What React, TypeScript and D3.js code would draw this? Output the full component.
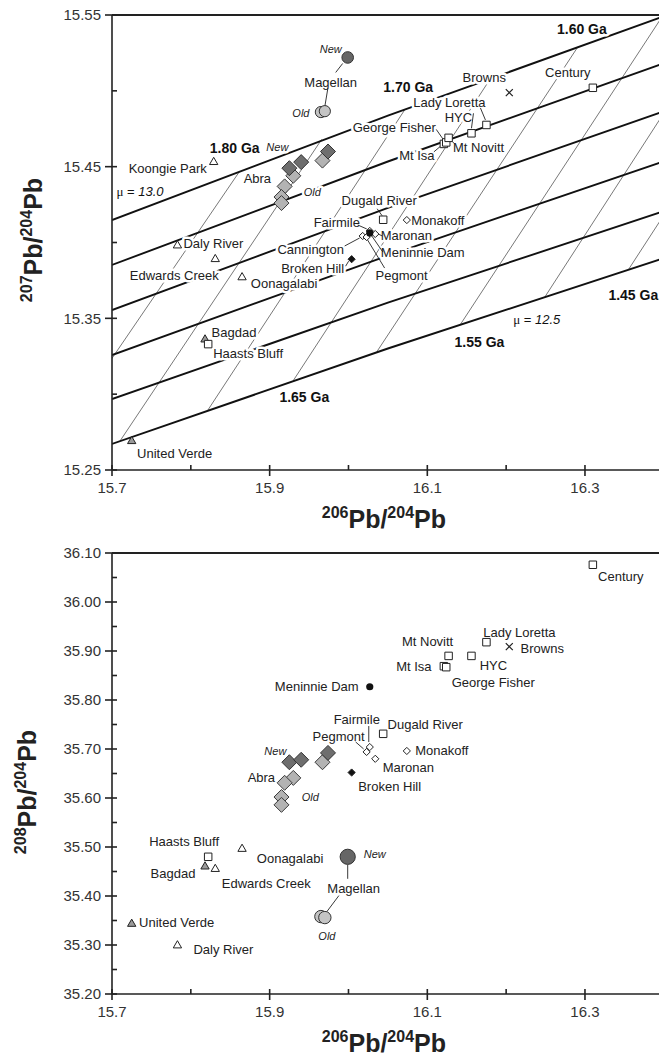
import React from 'react';
import * as d3 from 'd3';

const W = 659;
const H = 1061;
const FONT = '"Liberation Sans", Arial, Helvetica, sans-serif';

// --- model grid (top panel): growth curves for each mu, isochrons every 0.05 Ga
const muValues = [13.0, 12.9, 12.8, 12.7, 12.6, 12.5];
const growth206 = [15.7, 16.05, 16.4];
const growth207 = [
  [15.4148, 15.4837, 15.5491],
  [15.3852, 15.4534, 15.5182],
  [15.3555, 15.4228, 15.4865],
  [15.3258, 15.3914, 15.4535],
  [15.2968, 15.3604, 15.4206],
  [15.2672, 15.3301, 15.3896],
];
const isoAges = [1.8, 1.75, 1.7, 1.65, 1.6, 1.55, 1.5, 1.45];
const isoLow206 = [15.602, 15.71, 15.821, 15.93, 16.036, 16.142, 16.249, 16.355];
const isoLow207 = [15.249, 15.269, 15.289, 15.309, 15.328, 15.346, 15.364, 15.382];
const isoHigh206 = [15.862, 15.966, 16.072, 16.18, 16.291, 16.398, 16.503, 16.611];
const isoHigh207 = [15.447, 15.468, 15.488, 15.508, 15.529, 15.549, 15.568, 15.587];

// --- deposits (206Pb/204Pb shared by both panels)
const triSites = ['Koongie Park', 'Daly River', 'Edwards Creek', 'Oonagalabi', 'Bagdad', 'United Verde'];
const tri206 = [15.829, 15.783, 15.831, 15.865, 15.818, 15.725];
const tri207 = [15.453, 15.398, 15.389, 15.377, 15.336, 15.269];
const tri208 = [null, 35.299, 35.455, 35.496, 35.46, 35.343];

const sqSites = ['Haasts Bluff', 'Mt Isa', 'George Fisher', 'Mt Novitt', 'HYC', 'Lady Loretta', 'Dugald River', 'Century'];
const sq206 = [15.822, 16.121, 16.124, 16.127, 16.156, 16.175, 16.044, 16.31];
const sq207 = [15.333, 15.465, 15.466, 15.469, 15.472, 15.4775, 15.415, 15.502];
const sq208 = [35.48, 35.869, 35.867, 35.89, 35.89, 35.918, 35.731, 36.076];

const dmSites = ['Fairmile', 'Cannington', 'Maronan', 'Pegmont', 'Monakoff'];
const dm206 = [16.027, 16.018, 16.034, 16.023, 16.074];
const dm207 = [15.4076, 15.4043, 15.4056, 15.4036, 15.4148];
const dm208 = [35.704, null, 35.68, 35.694, 35.696];

const otherSites = ['Meninnie Dam', 'Broken Hill', 'Browns'];
const other206 = [16.027, 16.004, 16.204];
const other207 = [15.4063, 15.389, 15.4988];
const other208 = [35.827, 35.652, 35.909];

const abraOld206 = [15.967, 15.93, 15.919, 15.915, 15.915];
const abraOld207 = [15.454, 15.444, 15.437, 15.43, 15.426];
const abraOld208 = [35.673, 35.641, 35.631, 35.602, 35.586];
const abraNew206 = [15.925, 15.94, 15.974];
const abraNew207 = [15.449, 15.453, 15.46];
const abraNew208 = [35.673, 35.678, 35.692];

const magOld206 = [15.965, 15.97];
const magOld207 = [15.486, 15.4866];
const magOld208 = [35.358, 35.356];
const magNew206 = [15.999];
const magNew207 = [15.522];
const magNew208 = [35.48];

// --- axes
const xTicks = [15.7, 15.9, 16.1, 16.3];
const xMinor = [15.8, 16.0, 16.2];
const y7Ticks = [15.25, 15.35, 15.45, 15.55];
const y7Minor = [15.3, 15.4, 15.5];
const y8Ticks = [35.2, 35.3, 35.4, 35.5, 35.6, 35.7, 35.8, 35.9, 36.0, 36.1];
const y8Minor = [35.25, 35.35, 35.45, 35.55, 35.65, 35.75, 35.85, 35.95, 36.05];

type Site = { name: string; kind: string; x: number; y7: number | null; y8: number | null };

const sites: Site[] = [
  ...abraOld206.map((v, i) => ({ name: `Abra Old ${i}`, kind: 'abraOld', x: v, y7: abraOld207[i], y8: abraOld208[i] })),
  ...abraNew206.map((v, i) => ({ name: `Abra New ${i}`, kind: 'abraNew', x: v, y7: abraNew207[i], y8: abraNew208[i] })),
  ...magOld206.map((v, i) => ({ name: `Magellan Old ${i}`, kind: 'magOld', x: v, y7: magOld207[i], y8: magOld208[i] })),
  ...magNew206.map((v, i) => ({ name: `Magellan New ${i}`, kind: 'magNew', x: v, y7: magNew207[i], y8: magNew208[i] })),
  ...triSites.map((n, i) => ({ name: n, kind: 'tri', x: tri206[i], y7: tri207[i], y8: tri208[i] })),
  ...sqSites.map((n, i) => ({ name: n, kind: 'sq', x: sq206[i], y7: sq207[i], y8: sq208[i] })),
  ...dmSites.map((n, i) => ({ name: n, kind: 'odm', x: dm206[i], y7: dm207[i], y8: dm208[i] })),
  ...otherSites.map((n, i) => ({ name: n, kind: ['dot', 'bdm', 'x'][i], x: other206[i], y7: other207[i], y8: other208[i] })),
];

const greyTriangles = new Set(['Bagdad', 'United Verde']);

// label layout: [site, text, dx, dy, style, leader offsets]
type Lab = [string, string, number, number, string?, number[]?];
const topLabels: Lab[] = [
  ['Koongie Park', 'Koongie Park', -46, 6],
  ['Daly River', 'Daly River', 36, -2],
  ['Edwards Creek', 'Edwards Creek', -41, 16],
  ['Oonagalabi', 'Oonagalabi', 42, 6],
  ['Bagdad', 'Bagdad', 29, -7],
  ['Haasts Bluff', 'Haasts Bluff', 40, 9],
  ['United Verde', 'United Verde', 43, 12],
  ['Magellan New 0', 'New', -17, -8, 'i'],
  ['Magellan New 0', 'Magellan', -17, 25, '', [-5, 6, -12, 15]],
  ['Magellan Old 0', 'Old', -20, 1, 'i', [7, -24, 4, -6]],
  ['Abra New 0', 'Abra', -32, 10],
  ['Abra New 0', 'New', -12, -21, 'i'],
  ['Abra New 0', 'Old', 23, 24, 'i'],
  ['George Fisher', 'George Fisher', -52, -15, '', [-10, -13, -3, -3]],
  ['Mt Isa', 'Mt Isa', -27, 12, '', [-10, 8, -3, 2]],
  ['Mt Novitt', 'Mt Novitt', 30, 10, '', [6, 6, 3, 3]],
  ['HYC', 'HYC', -13, -16, '', [2, -20, 0, -5]],
  ['Lady Loretta', 'Lady Loretta', -37, -23, '', [-6, -17, -1, -5]],
  ['Browns', 'Browns', -25, -15],
  ['Century', 'Century', -25, -15],
  ['Dugald River', 'Dugald River', -4, -19, '', [-6, -11, -1, -4]],
  ['Monakoff', 'Monakoff', 31, 0],
  ['Fairmile', 'Fairmile', -33, -9, '', [-12, -6, -3, -2]],
  ['Cannington', 'Cannington', -52, 13, '', [-18, 10, -3, 2]],
  ['Maronan', 'Maronan', 31, 1, '', [7, 2, 3, 0]],
  ['Meninnie Dam', 'Meninnie Dam', 53, 20, '', [13, 19, 2, 3]],
  ['Broken Hill', 'Broken Hill', -39, 9, '', [-6, 7, -3, 2]],
  ['Pegmont', 'Pegmont', 35, 38, '', [18, 31, 1, 3]],
];

const bottomLabels: Lab[] = [
  ['Meninnie Dam', 'Meninnie Dam', -53, 0],
  ['Fairmile', 'Fairmile', -13, -28, '', [-1, -21, -1, -5]],
  ['Pegmont', 'Pegmont', -28, -15, '', [-11, -10, -3, -3]],
  ['Dugald River', 'Dugald River', 42, -9],
  ['Monakoff', 'Monakoff', 35, -1],
  ['Maronan', 'Maronan', 33, 9],
  ['Broken Hill', 'Broken Hill', 38, 14],
  ['Abra New 0', 'New', -14, -11, 'i'],
  ['Abra New 0', 'Abra', -28, 15],
  ['Abra New 0', 'Old', 21, 35, 'i'],
  ['Mt Novitt', 'Mt Novitt', -21, -14],
  ['Mt Isa', 'Mt Isa', -30, 0],
  ['Lady Loretta', 'Lady Loretta', 33, -10],
  ['Browns', 'Browns', 33, 2],
  ['HYC', 'HYC', 22, 10],
  ['George Fisher', 'George Fisher', 47, 15],
  ['Century', 'Century', 28, 12],
  ['Haasts Bluff', 'Haasts Bluff', -24, -15],
  ['Bagdad', 'Bagdad', -32, 7],
  ['Oonagalabi', 'Oonagalabi', 48, 9],
  ['Edwards Creek', 'Edwards Creek', 51, 14],
  ['Magellan New 0', 'New', 27, -3, 'i'],
  ['Magellan New 0', 'Magellan', 6, 32, '', [0, 8, 0, 22]],
  ['Magellan Old 0', 'Old', 6, 20, 'i', [18, -21, 6, -5]],
  ['United Verde', 'United Verde', 45, -1],
  ['Daly River', 'Daly River', 46, 4],
];

// age labels on the grid: [age index, end, dx, dy]
const ageLabels: [number, string, number, number][] = [
  [0, 'high', -5, -23],
  [2, 'high', 3, -22],
  [4, 'high', 4, -18],
  [3, 'low', 11, 17],
  [5, 'low', 19, 18],
  [7, 'low', 5, 25],
];

const diamond = (r: number) => `M0,${-r}L${r},0L0,${r}L${-r},0Z`;

function Marker({ s, px, py, top }: { s: Site; px: number; py: number; top: boolean }) {
  const st = { stroke: '#222', strokeWidth: 1 };
  switch (s.kind) {
    case 'tri':
      return <path transform={`translate(${px},${py})`} d={d3.symbol(d3.symbolTriangle, 30)() as string}
        fill={greyTriangles.has(s.name) ? '#9a9a9a' : '#fff'} {...st} />;
    case 'sq':
      return <path transform={`translate(${px},${py})`} d={d3.symbol(d3.symbolSquare, 56)() as string} fill="#fff" {...st} />;
    case 'odm':
      return <path transform={`translate(${px},${py})`} d={diamond(3.6)} fill="#fff" {...st} />;
    case 'bdm':
      return <path transform={`translate(${px},${py})`} d={diamond(3.6)} fill="#111" {...st} />;
    case 'dot':
      return <circle cx={px} cy={py} r={3.6} fill="#111" />;
    case 'x':
      return <path transform={`translate(${px},${py})`} d="M-3.5,-3.5L3.5,3.5M-3.5,3.5L3.5,-3.5" stroke="#222" strokeWidth={1.2} />;
    case 'abraOld':
      return <path transform={`translate(${px},${py})`} d={diamond(7.5)} fill="#b3b3b3" stroke="#3a3a3a" strokeWidth={1} />;
    case 'abraNew':
      return <path transform={`translate(${px},${py})`} d={diamond(7.5)} fill="#6e6e6e" stroke="#333" strokeWidth={1} />;
    case 'magOld':
      return <circle cx={px} cy={py} r={top ? 5.6 : 6.2} fill="#c4c4c4" stroke="#333" strokeWidth={1} />;
    case 'magNew':
      return <circle cx={px} cy={py} r={top ? 5.8 : 7.6} fill="#666" stroke="#333" strokeWidth={1} />;
  }
  return null;
}

function Title({ tx, ty, rot, sup }: { tx: number; ty: number; rot: boolean; sup: string }) {
  return (
    <text transform={`translate(${tx},${ty})${rot ? ' rotate(-90)' : ''}`} textAnchor="middle"
      fontFamily={FONT} fontWeight="bold" fill="#222">
      <tspan fontSize={16} dy={-10}>{sup}</tspan>
      <tspan fontSize={25} dy={10}>Pb/</tspan>
      <tspan fontSize={16} dy={-10}>204</tspan>
      <tspan fontSize={25} dy={10}>Pb</tspan>
    </text>
  );
}

function Panel({ y, yTicks, yMinor, yFmt, field, labels, top, yTitle, yTitleX, yTitleY }: any) {
  const x = d3.scaleLinear().domain([15.7, 16.4]).range([112, 663.8]);
  const [y0, y1] = y.range();
  const x0 = x(15.7);
  const x1 = x(16.4);
  const pts = sites.filter(s => s[field] != null);
  const pos = new Map<string, [number, number]>(pts.map(s => [s.name, [x(s.x), y(s[field])]]));
  const line = d3.line<[number, number]>().curve(d3.curveNatural).x(d => x(d[0])).y(d => y(d[1]));
  const clipId = top ? 'clipTop' : 'clipBot';
  const halo = { stroke: '#fff', strokeWidth: 5, strokeLinejoin: 'round' as const, paintOrder: 'stroke' as const };

  return (
    <g fontFamily={FONT}>
      <defs>
        <clipPath id={clipId}><rect x={x0} y={y1} width={x1 - x0} height={y0 - y1} /></clipPath>
      </defs>

      {top && (
        <g clipPath={`url(#${clipId})`}>
          {isoAges.map((a, i) => (
            <line key={a} x1={x(isoLow206[i])} y1={y(isoLow207[i])} x2={x(isoHigh206[i])} y2={y(isoHigh207[i])}
              stroke="#555" strokeWidth={0.8} />
          ))}
          {muValues.map((m, i) => (
            <path key={m} d={line(growth206.map((v, j) => [v, growth207[i][j]] as [number, number])) as string}
              fill="none" stroke="#111" strokeWidth={1.9} />
          ))}
        </g>
      )}

      {/* frame and ticks */}
      <g stroke="#222" strokeWidth={1.6}>
        <line x1={x0} x2={x1} y1={y1} y2={y1} strokeWidth={2} />
        <line x1={x0} x2={x0} y1={y0} y2={y1} />
        <line x1={x0} x2={x1} y1={y0} y2={y0} />
        {yTicks.map((t: number) => <line key={t} x1={x0 - 7} x2={x0 + 5} y1={y(t)} y2={y(t)} />)}
        {yMinor.map((t: number) => <line key={t} x1={x0} x2={x0 + 5} y1={y(t)} y2={y(t)} />)}
        {xTicks.map(t => <line key={t} x1={x(t)} x2={x(t)} y1={y0 - 5} y2={y0 + 6} />)}
        {xMinor.map(t => <line key={t} x1={x(t)} x2={x(t)} y1={y0 - 5} y2={y0} />)}
      </g>
      <g fontSize={15} fill="#333">
        {yTicks.map((t: number) => (
          <text key={t} x={x0 - 11} y={y(t)} dy="0.35em" textAnchor="end">{yFmt(t)}</text>
        ))}
        {xTicks.map(t => (
          <text key={t} x={x(t)} y={y0 + 23} textAnchor="middle">{t.toFixed(1)}</text>
        ))}
      </g>

      {/* grid annotations */}
      {top && (
        <g fill="#111">
          {ageLabels.map(([i, end, dx, dy]) => {
            const px = end === 'high' ? x(isoHigh206[i]) : x(isoLow206[i]);
            const py = end === 'high' ? y(isoHigh207[i]) : y(isoLow207[i]);
            return (
              <text key={i} x={px + dx} y={py + dy} dy="0.35em" textAnchor="middle" fontSize={14}
                fontWeight="bold" {...halo}>{isoAges[i].toFixed(2)} Ga</text>
            );
          })}
          <text x={x(growth206[0]) + 28} y={y(growth207[0][0]) - 29} dy="0.35em" textAnchor="middle" fontSize={13} {...halo}>
            <tspan fontFamily='"Liberation Serif", serif'>μ</tspan> = <tspan fontStyle="italic">{muValues[0].toFixed(1)}</tspan>
          </text>
          <text x={x(isoLow206[6]) - 8} y={y(isoLow207[6]) + 22} dy="0.35em" textAnchor="middle" fontSize={13} {...halo}>
            <tspan fontFamily='"Liberation Serif", serif'>μ</tspan> = <tspan fontStyle="italic">{muValues[5].toFixed(1)}</tspan>
          </text>
        </g>
      )}

      {/* site labels */}
      {labels.map(([key, text, dx, dy, style, leader]: Lab, k: number) => {
        const p = pos.get(key);
        if (!p) return null;
        const italic = style === 'i';
        return (
          <g key={k}>
            <text x={p[0] + dx} y={p[1] + dy} dy="0.35em" textAnchor="middle" fontSize={italic ? 11 : 13}
              fontStyle={italic ? 'italic' : 'normal'} fill="#222" {...halo}>{text}</text>
            {leader && (
              <line x1={p[0] + leader[0]} y1={p[1] + leader[1]} x2={p[0] + leader[2]} y2={p[1] + leader[3]}
                stroke="#222" strokeWidth={0.9} />
            )}
          </g>
        );
      })}

      {/* markers */}
      {pts.map(s => {
        const p = pos.get(s.name)!;
        return <Marker key={s.name} s={s} px={p[0]} py={p[1]} top={top} />;
      })}

      <Title tx={yTitleX} ty={yTitleY} rot sup={yTitle} />
      <Title tx={(x0 + x1) / 2 - 4} ty={y0 + 58} rot={false} sup="206" />
    </g>
  );
}

export default function App() {
  const yTop = d3.scaleLinear().domain([15.25, 15.55]).range([470, 15]);
  const yBot = d3.scaleLinear().domain([35.2, 36.1]).range([994, 553]);
  return (
    <svg width={W} height={H} style={{ position: 'absolute', left: 0, top: 0, display: 'block', background: '#fff' }}>
      <Panel y={yTop} yTicks={y7Ticks} yMinor={y7Minor} yFmt={(t: number) => t.toFixed(2)} field="y7"
        labels={topLabels} top yTitle="207" yTitleX={42} yTitleY={240} />
      <Panel y={yBot} yTicks={y8Ticks} yMinor={y8Minor} yFmt={(t: number) => t.toFixed(2)} field="y8"
        labels={bottomLabels} top={false} yTitle="208" yTitleX={36} yTitleY={792} />
    </svg>
  );
}
